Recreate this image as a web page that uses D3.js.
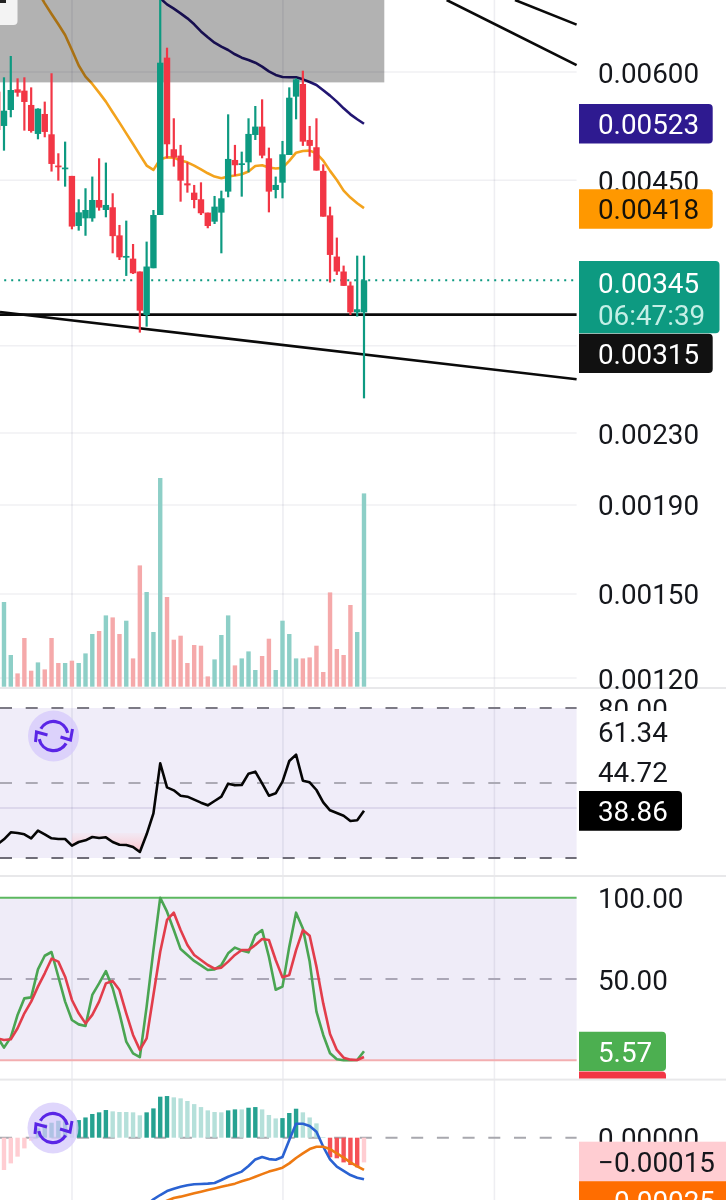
<!DOCTYPE html>
<html>
<head>
<meta charset="utf-8">
<script src="https://cdn.jsdelivr.net/npm/d3@7/dist/d3.min.js"></script>
<style>
html,body{margin:0;padding:0;background:#fff;overflow:hidden}
svg{display:block}
text{font-family:Roboto,sans-serif}
</style>
</head>
<body>
<div id="chart"></div>
<script>
// ---------- data (prices in units of 0.00001) ----------
const open = [569.5,519.9,542.4,573,571,549.7,509,536.7,508.5,468,463.4,455.3,398.6,406.8,406.8,427.1,415.9,418.9,388.8,366.8,365.5,353.2,314.7,356.3,410.4,623.3,488.7,480.5,446.4,435.5,427.9,413,403.2,413,436.7,475,469.2,472,507.6,519,477.1,438.6,447.2,481.3,562,581.2,500.9,491.3,461.4,410,367.5,353.2,340.3,316.9,316.9];
const high = [569.5,591.6,626.1,590,591.6,576,544.8,554.6,598,483.5,498.7,455.3,427.9,440.6,454.5,477.1,471.7,434.8,399.7,404.3,380,353.2,382.4,415.9,760,640,530.6,494.4,472,444.5,447.6,413,431.7,437.8,536.2,494.4,485.6,530.6,548.2,558,490.8,454.5,499.6,576,590,602.1,519.9,530.6,469.5,419.6,386.5,358.8,343.9,368.4,368.4];
const low = [514.4,486.9,532,562,513.5,510.8,501.8,504.5,460.6,449.6,442.5,395.1,393.7,388.4,403.2,415.2,407.9,370.7,364.2,349.1,350.9,300.3,305.1,356.3,410.4,477.1,466.7,425.2,435.5,417.8,410.4,396.2,400.7,370.7,430.2,455.3,430.9,459.7,500.9,477.1,413.3,429,429,481.3,529.2,493.1,479.2,461.8,408.6,343,350,340,314.7,313.4,252.2];
const close = [514.4,541.4,572,567.9,554.1,513,544.3,511.7,470,465.9,465.5,398,413.3,415.9,427.1,418.5,421.5,388,366.8,368.1,351.6,318.3,357.9,410.4,615,495.2,478,449.6,444,427.1,412.3,398.6,419.6,429,476.3,468.4,470.8,509,519,480.5,436.7,444.5,482.2,560.4,588.4,498.7,493.1,461.8,408.6,369.1,353.2,340,316.9,319.5,345];
const volume = [0,84.7,31.7,13.3,48.7,16,24.3,17.3,48.7,23.7,23.7,26,23.7,33.3,52.7,55.7,71.3,69.3,52.7,66,28.3,121.3,94.7,54.7,208.7,89.7,47,51,23.7,41.7,41,10.3,27.3,51.7,71.3,21.3,28.3,35.3,16.7,30.7,48,16.7,66,52.7,28.3,28.3,29.3,41,14.7,94.3,37.7,31.7,81.7,54.7,193.3];
const maFastStart = 6;
const maFast = [742.6,720,699.9,681,662,636.1,610.4,592.6,581.2,568,554.6,539.1,524.5,509.8,495.6,481.4,468,462.6,475.9,478.3,477.9,474.2,472,468,463.4,458.5,454.5,452.4,454.5,455.7,457.3,460.6,467.5,468.4,465.5,464.3,465.1,473.8,484.3,486.5,486.9,483.5,474.2,461.4,450.4,437.8,429.8,423.4,418];
const maSlowStart = 24;
const maSlow = [729.6,718,709.9,701.1,691.9,681,668.2,657.9,648.6,641.8,636.1,628.9,623.3,619.4,615,608.6,601.1,595.3,592.1,591.6,591.6,588.4,584.3,579.7,571.5,563.5,554.6,544.8,536.2,529.2,523];
const rsi = [25.47,27.47,30.27,30,29.47,27.87,30.93,29.47,27.87,27.6,27.6,24.93,26.4,27.07,28.4,28,28.27,26.4,25.33,25.2,24.4,22.4,29.47,37.87,57.87,48.27,47.07,44.93,44.53,43.33,42.13,41.07,42.8,44.53,49.73,49.07,49.2,53.73,54.53,49.87,44.93,45.87,50.53,58.8,61.34,50.93,50.27,47.2,42.27,39.07,38,36.93,34.8,35.07,38.86];
const stochK = [14.5,7.8,14.1,27.9,38.1,38.7,55.9,64.3,66.6,51.4,36.1,24.8,22.1,21.1,40.2,47.3,54.9,44.3,28.9,11.5,4.3,2,33,67.8,100,91.4,80.1,68.4,64.8,61.1,58.4,55.5,55.9,58.6,65.8,69.3,67.6,66.4,77,80.1,63.7,43.4,45.3,69.9,90.8,81.1,60.7,29.9,15.6,4.3,0.6,0,0,0.2,5.57];
const stochD = [13.5,12.5,12.9,19.7,28.9,36.1,45.3,53.5,62.5,60.7,51.4,37.1,28.9,22.7,27.9,36.1,47.3,48.8,43.2,28.9,15.6,6.4,13.5,40.2,66.8,86.3,90.8,80.1,70.9,64.8,61.7,58.6,56.4,57,60.7,64.8,67.8,67.8,70.9,74.6,74,61.7,51,52.5,67.8,80.1,76.6,57.6,35,16.2,6.4,1.6,0.4,0.2,2];
// MACD in units of 0.00001
const macdHist = [-21,-19.6,-15.6,-11.5,-6.5,-1.8,5.7,8.3,9.1,10.3,10.6,8.1,10.7,12.3,14.4,15.4,16.8,16,15.6,15.6,15.4,13.6,15.4,17.8,24.9,25.3,24.5,23.9,22.3,20.4,18.6,16.6,15.6,15.4,16.6,17.2,17.2,18.2,18.6,17.2,13.8,11.7,11.9,15,17.6,15.4,12.3,8.7,0.4,-11.9,-12.5,-15,-16.6,-18,-15];
const macdLineStart = 22;
const macdLine = [-40.9,-37.4,-34.8,-32.4,-31,-29.8,-28.9,-28.3,-28.1,-27.9,-27.5,-25.7,-23.7,-22.1,-20.6,-17.2,-13.2,-11.7,-13,-13.4,-11.7,-1.4,8.5,8.5,7.1,3.6,-5.5,-13.2,-17.6,-20.2,-22.7,-24.3,-25.3];
const macdSignalStart = 24;
const macdSignal = [-39.9,-38.3,-36.6,-35.8,-34.8,-33.8,-32.8,-31.8,-30.8,-29.8,-28.9,-27.9,-26.5,-25.3,-23.7,-22.1,-20.6,-19.4,-18.2,-15.6,-12.3,-9.5,-6.9,-5.5,-5.5,-6.9,-9.5,-12.1,-15,-17.4,-19.6];

// tick values and labels
const priceGrid = [600,450,290,230,190,150,120];
const priceTicks = [600,450,230,190,150,120];
const timeGrid = [11.01,42.07,73.2];        // vertical grid, in bar indices
const rsiGrid = [40];
const rsiTicks = [80];
const stochTicks = [100,50];
const macdTicks = [0];
const priceLast = 345, priceLevel = 315, rightEdgeIndex = 85.3;
const trendLines = [
  [[66.17,726.4],[85.3,611]],
  [[76.23,726.4],[85.3,680.4]],
  [[0.41,317.2],[85.3,265.3]]
];

// ---------- scales ----------
const W = 726, H = 1200;
const x = d3.scaleLinear().domain([0,54]).range([-2.8,364]);
const plotR = x(rightEdgeIndex);
const yP = d3.scaleLog().domain([600,120]).range([72,678]);
const yV = d3.scaleLinear().domain([0,210]).range([686.7,476.7]);
const yR = d3.scaleLinear().domain([20,80]).range([858,708]);
const yS = d3.scaleLinear().domain([0,100]).range([1060.3,897.7]);
const yM = d3.scaleLinear().domain([0,-15]).range([1137.7,1162.4]);

const TEAL = "#0d9a81", RED = "#f23645";
const GRID = "#f0f0f3", VGRID = "#eeeef2";
const FS = 27.8;
const LW = 2.6;

const svg = d3.select("#chart").append("svg").attr("width",W).attr("height",H);
const defs = svg.append("defs");
const grad = defs.append("linearGradient").attr("id","os").attr("x1",0).attr("x2",0).attr("y1",0).attr("y2",1);
grad.append("stop").attr("offset","0%").attr("stop-color","#ffc4c8").attr("stop-opacity",0.1);
grad.append("stop").attr("offset","100%").attr("stop-color","#ffb0b8").attr("stop-opacity",0.75);

// pane backgrounds
const hBand = (y0,y1,c)=>svg.append("rect").attr("x",0).attr("y",y0).attr("width",plotR).attr("height",y1-y0).attr("fill",c);
hBand(yR(80),yR(20),"#f0edf9");
hBand(yS(100),yS(0),"#efecf8");

// vertical grid
svg.append("g").selectAll("line").data(timeGrid).join("line")
  .attr("x1",d=>x(d)).attr("x2",d=>x(d)).attr("y1",0).attr("y2",H)
  .attr("stroke",VGRID).attr("stroke-width",1.6)
  .style("mix-blend-mode","multiply");

// horizontal grid
const hGrid = (ticks,sc)=>svg.append("g").selectAll("line").data(ticks).join("line")
  .attr("x1",0).attr("x2",plotR).attr("y1",d=>sc(d)).attr("y2",d=>sc(d))
  .attr("stroke",GRID).attr("stroke-width",1.6).style("mix-blend-mode","multiply");
hGrid(priceGrid,yP);
hGrid(rsiGrid,yR).attr("stroke","#e5e2ee");

// separators
svg.append("g").selectAll("rect").data([688,876,1079.6]).join("rect")
  .attr("x",0).attr("width",W).attr("y",d=>d-1).attr("height",2).attr("fill","#e8e8ea");

// volume
const isUp = i=>close[i]>=open[i];
svg.append("g").selectAll("rect").data(volume).join("rect")
  .attr("x",(d,i)=>x(i)-2.2).attr("width",4.4)
  .attr("y",d=>yV(d)).attr("height",d=>yV(0)-yV(d))
  .attr("fill",(d,i)=>isUp(i)?"#8dcfc7":"#f5a9aa");

// price line dotted
const lineP = d3.line().x(d=>x(d[0])).y(d=>yP(d[1]));
svg.append("path").attr("d",lineP([[0,priceLast],[rightEdgeIndex,priceLast]]))
  .attr("fill","none").attr("stroke",TEAL).attr("stroke-width",2).attr("stroke-dasharray","2 5");

// moving averages
const lineSeries = (arr,start,sc)=>d3.line().x((d,i)=>x(i+start)).y(d=>sc(d))(arr);
svg.append("path").attr("d",lineSeries(maFast,maFastStart,yP)).attr("fill","none").attr("stroke","#f3a31d").attr("stroke-width",LW).attr("stroke-linejoin","round");
svg.append("path").attr("d",lineSeries(maSlow,maSlowStart,yP)).attr("fill","none").attr("stroke","#221672").attr("stroke-width",LW).attr("stroke-linejoin","round");

// grey zone
svg.append("rect").attr("x",0).attr("y",0).attr("width",384.3).attr("height",82.4).attr("fill","#000").attr("fill-opacity",0.3);

// trend lines and level
svg.append("g").selectAll("path").data(trendLines).join("path").attr("d",lineP)
  .attr("fill","none").attr("stroke","#0a0a0a").attr("stroke-width",LW);
svg.append("path").attr("d",lineP([[0,priceLevel],[rightEdgeIndex,priceLevel]]))
  .attr("fill","none").attr("stroke","#0a0a0a").attr("stroke-width",LW);

// candles
const gC = svg.append("g");
gC.selectAll("line").data(d3.range(open.length)).join("line")
  .attr("x1",i=>x(i)).attr("x2",i=>x(i)).attr("y1",i=>yP(high[i])).attr("y2",i=>yP(low[i]))
  .attr("stroke",i=>isUp(i)?TEAL:RED).attr("stroke-width",2.2);
gC.selectAll("rect").data(d3.range(open.length)).join("rect")
  .attr("x",i=>x(i)-3.2).attr("width",6.4)
  .attr("y",i=>yP(Math.max(open[i],close[i])))
  .attr("height",i=>Math.max(1.7,Math.abs(yP(open[i])-yP(close[i]))))
  .attr("fill",i=>isUp(i)?TEAL:RED);

// top-left toolbar piece
svg.append("rect").attr("x",-8).attr("y",-8).attr("width",25.5).attr("height",33).attr("rx",4).attr("fill","#f3f3f3");
svg.append("rect").attr("x",-2).attr("y",-4).attr("width",8).attr("height",7).attr("fill","#222");

// RSI pane
const dash = (v,sc,c)=>svg.append("path").attr("d",`M${0},${sc(v)}H${plotR}`)
  .attr("stroke",c).attr("stroke-width",2).attr("stroke-dasharray","12 13.7");
dash(80,yR,"#7c7a85"); dash(50,yR,"#acaab5"); dash(20,yR,"#6f6d78");
const osIdx = d3.range(11,23);
svg.append("path").attr("d",d3.area().x(i=>x(i)).y0(yR(30)).y1(i=>yR(Math.min(rsi[i],30)))(osIdx)).attr("fill","url(#os)");
svg.append("path").attr("d",lineSeries(rsi,0,yR)).attr("fill","none").attr("stroke","#050505").attr("stroke-width",LW).attr("stroke-linejoin","round");

// Stoch pane
svg.append("path").attr("d",`M0,${yS(100)}H${plotR}`).attr("stroke","#5cb860").attr("stroke-width",2);
svg.append("path").attr("d",`M0,${yS(0)}H${plotR}`).attr("stroke","#f3aeb0").attr("stroke-width",2);
dash(50,yS,"#aaa6b6");
svg.append("path").attr("d",lineSeries(stochK,0,yS)).attr("fill","none").attr("stroke","#4aa552").attr("stroke-width",LW).attr("stroke-linejoin","round");
svg.append("path").attr("d",lineSeries(stochD,0,yS)).attr("fill","none").attr("stroke","#e23d4b").attr("stroke-width",LW).attr("stroke-linejoin","round");

// MACD pane
dash(0,yM,"#a8a8ae");
svg.append("g").selectAll("rect").data(macdHist).join("rect")
  .attr("x",(d,i)=>x(i)-2.2).attr("width",4.4)
  .attr("y",d=>Math.min(yM(d),yM(0))).attr("height",d=>Math.abs(yM(d)-yM(0)))
  .attr("fill",(d,i)=>{
    const rising = i===0 ? true : d>macdHist[i-1];
    if(d>=0) return rising?"#26a291":"#b5e0da";
    return rising?"#ffcdd2":"#f55157";
  });
svg.append("path").attr("d",lineSeries(macdLine,macdLineStart,yM)).attr("fill","none").attr("stroke","#2a62d2").attr("stroke-width",LW).attr("stroke-linejoin","round");
svg.append("path").attr("d",lineSeries(macdSignal,macdSignalStart,yM)).attr("fill","none").attr("stroke","#ee7a12").attr("stroke-width",LW).attr("stroke-linejoin","round");

// indicator icons
function icon(cx,cy){
  const g = svg.append("g").attr("transform",`translate(${cx},${cy})`);
  g.append("circle").attr("r",25.5).attr("fill","#d6cbfb").attr("fill-opacity",0.78);
  const arc = d3.arc().innerRadius(13).outerRadius(16.2);
  g.append("path").attr("d",arc({startAngle:-1.05,endAngle:1.35})).attr("fill","#5a25e6");
  g.append("path").attr("d",arc({startAngle:2.1,endAngle:4.5})).attr("fill","#5a25e6");
  g.append("path").attr("d","M7,1 L17,4 L19,-7").attr("fill","none").attr("stroke","#5a25e6").attr("stroke-width",3);
  g.append("path").attr("d","M-6,-1 L-17,-4 L-18,6").attr("fill","none").attr("stroke","#5a25e6").attr("stroke-width",3);
}
icon(53.5,736);
icon(53,1128);

// right axes
function axis(sc,ticks,fmt){
  const g = svg.append("g").attr("transform","translate(598,0)")
    .call(d3.axisRight(sc).tickValues(ticks).tickFormat(fmt).tickSize(0).tickPadding(0));
  g.select(".domain").remove();
  g.selectAll("text").attr("font-size",FS).attr("fill","#15171c").attr("font-family","Roboto,sans-serif").attr("dy","0.36em");
  return g;
}
const fmtPrice = d=>(d/1e5).toFixed(5);
axis(yP,priceTicks,fmtPrice);
axis(yR,rsiTicks,d=>d.toFixed(2));
axis(yS,stochTicks,d=>d.toFixed(2));
axis(yM,macdTicks,d=>(d/1e5).toFixed(5));

// value labels
function box(y0,y1,r,fill,lines){
  const x0 = 579, rad = 4;
  svg.append("path").attr("d",`M${x0},${y0}H${r-rad}Q${r},${y0} ${r},${y0+rad}V${y1-rad}Q${r},${y1} ${r-rad},${y1}H${x0}Z`).attr("fill",fill);
  lines.forEach(l=>svg.append("text").attr("x",598).attr("y",l.y).attr("dy","0.36em")
    .attr("font-size",FS).attr("fill",l.c).text(l.t));
}
svg.append("rect").attr("x",579).attr("y",711).attr("width",147).attr("height",78).attr("fill","#fff");
box(104,143.5,712.7,"#2e1a90",[{y:123.5,c:"#fff",t:"0.00523"}]);
box(189.3,228.7,712.7,"#ff9800",[{y:209,c:"#15120a",t:"0.00418"}]);
box(333.7,373,712.7,"#111111",[{y:354,c:"#fff",t:"0.00315"}]);
box(261,333.3,719.5,"#0d9a81",[{y:282.5,c:"#fff",t:"0.00345"},{y:314.5,c:"#c4efe6",t:"06:47:39"}]);
const sideText = (y,t)=>svg.append("text").attr("x",598).attr("y",y).attr("dy","0.36em").attr("font-size",FS).attr("fill","#15171c").text(t);
sideText(732,"61.34");
sideText(771.5,"44.72");
box(791,830.7,682,"#000",[{y:811,c:"#fff",t:"38.86"}]);
svg.append("path").attr("d","M579,1071.5H662Q666,1071.5 666,1075.5V1078.6H579Z").attr("fill","#f23645");
box(1031.7,1071,666,"#4caf50",[{y:1052,c:"#fff",t:"5.57"}]);
svg.append("rect").attr("x",579).attr("y",1141.7).attr("width",147).attr("height",39.5).attr("fill","#ffcdd2");
svg.append("text").attr("x",598).attr("y",1162).attr("dy","0.36em").attr("font-size",FS).attr("fill","#15171c").text("\u22120.00015");
svg.append("rect").attr("x",579).attr("y",1181.2).attr("width",147).attr("height",20).attr("fill","#ff6d00");
svg.append("text").attr("x",598).attr("y",1201).attr("dy","0.36em").attr("font-size",FS).attr("fill","#fff").text("\u22120.00025");
</script>
</body>
</html>
